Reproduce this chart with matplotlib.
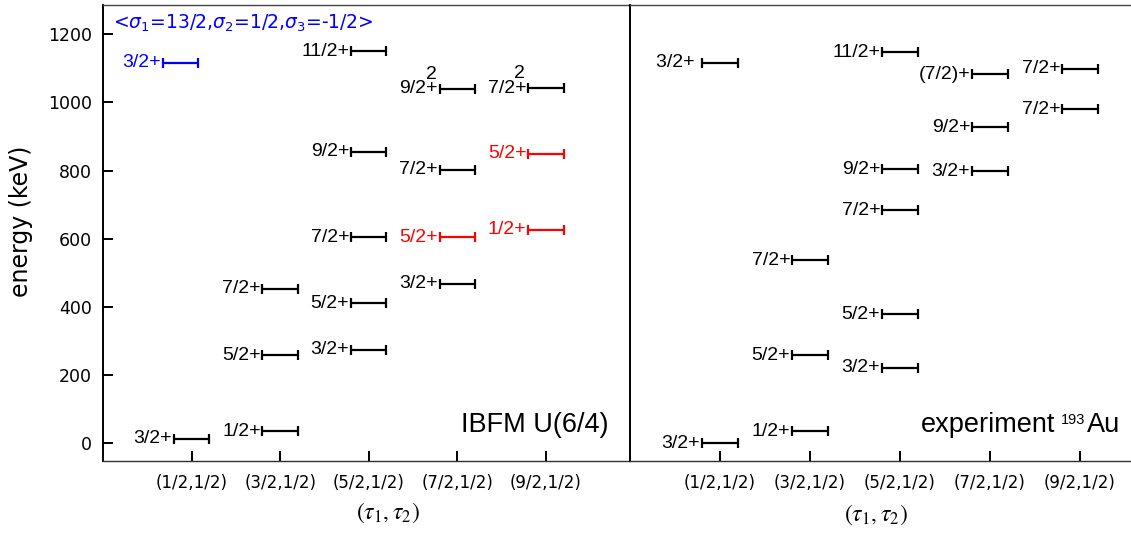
import numpy as np
import matplotlib
matplotlib.use("Agg")
import matplotlib.pyplot as plt

# (tau1, tau2) columns
tau_labels = ['(1/2,1/2)', '(3/2,1/2)', '(5/2,1/2)', '(7/2,1/2)', '(9/2,1/2)']

# IBFM U(6/4) levels (keV)
ibfm_col = [1, 1, 2, 2, 2, 3, 3, 3, 3, 3, 4, 4, 4, 4, 5, 5, 5]
ibfm_energy = [13, 1117, 36, 259, 453, 274, 411, 605, 855, 1151, 468, 605, 803, 1040, 626, 849, 1042]
ibfm_label = ['3/2+', '3/2+', '1/2+', '5/2+', '7/2+', '3/2+', '5/2+', '7/2+', '9/2+', '11/2+',
              '3/2+', '5/2+', '7/2+', '9/2+', '1/2+', '5/2+', '7/2+']
ibfm_color = ['k', 'b', 'k', 'k', 'k', 'k', 'k', 'k', 'k', 'k',
              'k', 'r', 'k', 'k', 'r', 'r', 'k']
ibfm_sup = ['', '', '', '', '', '', '', '', '', '', '', '', '', '2', '', '', '2']

# experiment 193Au levels (keV)
exp_col = [1, 1, 2, 2, 2, 3, 3, 3, 3, 3, 4, 4, 4, 5, 5]
exp_energy = [0, 1116, 36, 258, 537, 222, 379, 684, 804, 1148, 798, 928, 1083, 980, 1099]
exp_label = ['3/2+', '3/2+ ', '1/2+', '5/2+', '7/2+', '3/2+', '5/2+', '7/2+', '9/2+', '11/2+',
             '3/2+', '9/2+', '(7/2)+', '7/2+', '7/2+']

W, H = 1131, 534
fig = plt.figure(figsize=(W / 100, H / 100), dpi=100)

bot = (H - 461) / H
hgt = 456 / H
ax1 = fig.add_axes([103 / W, bot, 527 / W, hgt])
ax2 = fig.add_axes([630 / W, bot, 540 / W, hgt])

half = 0.2
lfont = 'Liberation Sans'


def draw_levels(ax, cols, energies, labels, colors, sups, shift):
    for i, (c, e, lab, col, sup) in enumerate(zip(cols, energies, labels, colors, sups)):
        xc = c + shift.get(i, 0.0)
        ax.errorbar(xc, e, xerr=half, fmt='none', ecolor=col, elinewidth=1.6,
                    capsize=3.3, capthick=1.6)
        ax.text(xc - half - 0.02, e, lab, ha='right', va='center', color=col,
                fontsize=14, family=lfont)
        if sup:
            ax.annotate(sup, (xc - half - 0.02, e), xytext=(-1, 10.5), textcoords='offset points',
                        ha='right', va='center', color=col, fontsize=14, family=lfont)


draw_levels(ax1, ibfm_col, ibfm_energy, ibfm_label, ibfm_color, ibfm_sup, {1: -0.125})
draw_levels(ax2, exp_col, exp_energy, exp_label, ['k'] * len(exp_col),
            [''] * len(exp_col), {})

for ax in (ax1, ax2):
    ax.set_ylim(-52, 1286)
    ax.set_xticks(range(1, 6))
    ax.set_xticklabels(tau_labels, fontsize=12)
    ax.tick_params(axis='x', direction='in', length=7, width=1.4, pad=9)
    ax.spines['top'].set_color('#444444')
    ax.spines['top'].set_linewidth(1.0)
    ax.spines['bottom'].set_color('#333333')
    ax.spines['bottom'].set_linewidth(1.0)
    ax.spines['left'].set_linewidth(1.4)
    ax.set_xlabel(r'$(\tau_1,\tau_2)$', fontsize=17, math_fontfamily='stix')

ax1.set_xlim(0, 5.95)
ax2.set_xlim(0, 6)
ax1.spines['right'].set_visible(False)
ax2.spines['right'].set_visible(False)

ax1.set_yticks(range(0, 1201, 200))
ax1.tick_params(axis='y', direction='in', length=7, width=1.4, pad=8, labelsize=12.5)
ax2.set_yticks([])

ax1.set_ylabel('energy (keV)', fontsize=17)
ax1.yaxis.set_label_coords(-0.133, 0.526)
ax1.xaxis.set_label_coords(0.54, -0.086)
ax2.xaxis.set_label_coords(0.455, -0.09)

ax1.text(0.019, 0.96, r'<$\sigma_1$=13/2,$\sigma_2$=1/2,$\sigma_3$=-1/2>', transform=ax1.transAxes,
         color='b', fontsize=13.5, ha='left', va='center', math_fontfamily='dejavusans')
ax1.text(0.96, 0.064, 'IBFM U(6/4)', transform=ax1.transAxes, fontsize=19.5,
         ha='right', va='baseline', family=lfont)

# "experiment 193Au" built from pieces so the mass number stays small
t_au = ax2.text(0.907, 0.064, 'Au', transform=ax2.transAxes, fontsize=19.5,
                ha='right', va='baseline', family=lfont)
t_a = ax2.annotate('193', xy=(0, 1), xycoords=t_au, xytext=(-1, -1), textcoords='offset points',
                   ha='right', va='top', fontsize=10.5, family=lfont)
ax2.annotate('experiment', xy=(0, 0), xycoords=(t_a, t_au), xytext=(-4, 0),
             textcoords='offset points', ha='right', va='bottom', fontsize=19.5, family=lfont)

fig.savefig('out.png', dpi=100)
